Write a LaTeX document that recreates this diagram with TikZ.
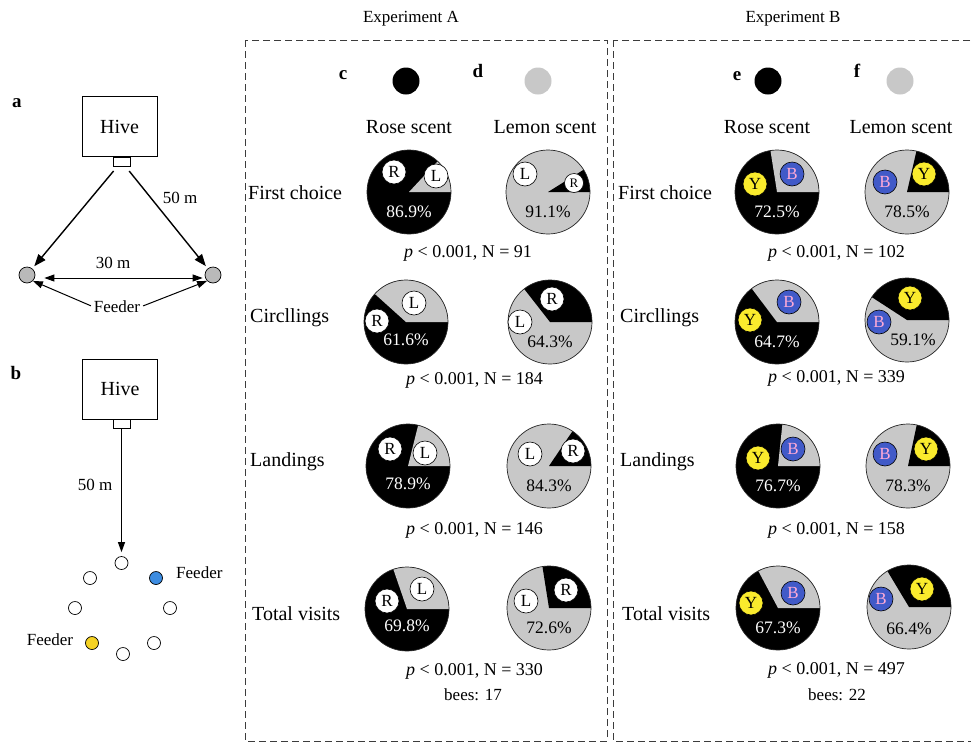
\documentclass[tikz,border=0pt]{standalone}
\usepackage{fontspec}
\setmainfont{Liberation Serif}
\usetikzlibrary{arrows.meta,calc}
\definecolor{pieGray}{RGB}{200,200,200}
\definecolor{feedGray}{RGB}{185,185,185}
\definecolor{lblBlue}{RGB}{65,90,200}
\definecolor{lblPink}{RGB}{255,170,215}
\definecolor{lblYellow}{RGB}{250,235,45}
\definecolor{fdBlue}{RGB}{60,140,225}
\definecolor{fdYellow}{RGB}{245,210,35}
\definecolor{boxLine}{RGB}{60,60,60}

\newcommand\mypie[6]{%
 \coordinate (#1) at (#2,#3);
 \begin{scope}[shift={(#1)},yscale=-1]
  \fill[#4] (0,0) circle[radius=42];
  \fill[#5] (0,0) -- (0:42) arc[start angle=0,end angle=#6,radius=42] -- cycle;
  \draw[pieedge] (0,0) circle[radius=42];
 \end{scope}}

\begin{document}
\begin{tikzpicture}[x=1pt,y=-1pt,
  txt/.style={inner sep=0pt, font=\fontsize{20}{24}\selectfont},
  small/.style={inner sep=0pt, font=\fontsize{17}{20}\selectfont},
  head/.style={inner sep=0pt, font=\fontsize{17}{20}\selectfont},
  ptxt/.style={inner sep=0pt, font=\fontsize{18}{21}\selectfont},
  letter/.style={inner sep=0pt, font=\fontsize{19}{22}\selectfont\bfseries},
  pieedge/.style={draw=black!85, line width=0.7pt},
  pctw/.style={inner sep=0pt, text=white, font=\fontsize{17.5}{20}\selectfont},
  pctk/.style={inner sep=0pt, text=black, font=\fontsize{17.5}{20}\selectfont},
  wl/.style={circle, draw=black, line width=0.6pt, fill=white, minimum size=24pt, inner sep=0pt, font=\fontsize{17}{19}\selectfont},
  wls/.style={wl, minimum size=19pt, font=\fontsize{13}{15}\selectfont},
  bl/.style={wl, fill=lblBlue, text=lblPink},
  yl/.style={wl, fill=lblYellow},
  dot/.style={circle, minimum size=27pt, inner sep=0pt},
  framebox/.style={draw=boxLine, line width=1pt, dash pattern=on 7pt off 4pt},
  hive/.style={draw, line width=0.8pt, minimum width=75pt, minimum height=60pt, inner sep=0pt, font=\fontsize{20}{24}\selectfont},
  entr/.style={draw, line width=0.8pt, minimum width=17pt, minimum height=9pt, inner sep=0pt, fill=white},
  feed/.style={circle, draw, line width=0.7pt, fill=feedGray, minimum size=16pt, inner sep=0pt},
  spot/.style={circle, draw, line width=0.7pt, fill=white, minimum size=13pt, inner sep=0pt},
  arr/.style={line width=1.4pt, -{Triangle[length=12pt,width=9pt]}},
  arrs/.style={line width=1pt, -{Triangle[length=10pt,width=7pt]}},
  dbl/.style={line width=1pt, {Triangle[length=10pt,width=7pt]}-{Triangle[length=10pt,width=7pt]}},
]
\useasboundingbox (0,0) rectangle (971,742);
\fill[white] (0,0) rectangle (971,742);

% ---------- panel a ----------
\node[letter] (la) at (17,103) {a};
\node[hive] (hiveA) at (119.5,126.5) {Hive};
\node[entr] (entA) at (121.5,161.5) {};
\node[feed] (fl) at (27,275) {};
\node[feed] (fr) at (213,275) {};
\draw[arr, shorten <=6pt, shorten >=3pt] (entA) -- (fl);
\draw[arr, shorten <=6pt, shorten >=3pt] (entA) -- (fr);
\node[small] (d50a) at (180,198) {50 m};
\node[small] (d30a) at (113,263) {30 m};
\draw[dbl, shorten <=9pt, shorten >=2pt] ([yshift=-3pt]fl.east) -- ([yshift=-3pt]fr.west);
\node[small] (feedA) at (117,307) {Feeder};
\draw[arrs, shorten <=3pt] (feedA.west) -- (fl.south east);
\draw[arrs, shorten <=3pt] (feedA.east) -- (fr.south west);

% ---------- panel b ----------
\node[letter] (lb) at (16,373) {b};
\node[hive] (hiveB) at (120,389) {Hive};
\node[entr] (entB) at (121.5,424) {};
\node[spot] (s1) at (121.5,563) {};
\node[spot] (s2) at (90,578) {};
\node[spot, fill=fdBlue] (s3) at (156,578) {};
\node[spot] (s4) at (75,608) {};
\node[spot] (s5) at (170,608) {};
\node[spot, fill=fdYellow] (s6) at (92,643) {};
\node[spot] (s7) at (154,643) {};
\node[spot] (s8) at (123,654) {};
\draw[arrs, shorten >=4pt] (entB.south) -- (entB.south |- s1.north);
\node[small] (d50b) at (95,485) {50 m};
\node[small, anchor=west] (feedB1) at (176,573) {Feeder};
\node[small] (feedB2) at (50,640) {Feeder};

% ---------- frames and headers ----------
\node[head] (expA) at (411,19) {Experiment A};
\node[head] (expB) at (793,19) {Experiment B};
\draw[framebox] (245,40) rectangle (607,741);
\draw[framebox] (613,40) rectangle (976,741);

\node[letter] (lc) at (343,75) {c};
\node[dot, fill=black] (dc) at (406,81) {};
\node[letter] (ld) at (478,71) {d};
\node[dot, fill=pieGray] (dd) at (538,81) {};
\node[letter] (le) at (737,76) {e};
\node[dot, fill=black] (de) at (768,81) {};
\node[letter] (lf) at (857,71) {f};
\node[dot, fill=pieGray] (df) at (900,81) {};

\node[txt] (rsA) at (409,127) {Rose scent};
\node[txt] (lsA) at (545,127) {Lemon scent};
\node[txt] (rsB) at (767,127) {Rose scent};
\node[txt] (lsB) at (901,127) {Lemon scent};

% row labels
\node[txt, anchor=west] (A-r1) at (248,193) {First choice};
\node[txt, anchor=west] (A-r2) at (250,318) {Circllings};
\node[txt, anchor=west] (A-r3) at (250,462) {Landings};
\node[txt, anchor=west] (A-r4) at (252,614) {Total visits};
\node[txt, anchor=west] (B-r1) at (618,193) {First choice};
\node[txt, anchor=west] (B-r2) at (620,318) {Circllings};
\node[txt, anchor=west] (B-r3) at (620,462) {Landings};
\node[txt, anchor=west] (B-r4) at (622,614) {Total visits};

% ---------- Experiment A pies ----------
\mypie{A1c}{409}{192}{black}{pieGray}{47}
\node[wl] (A1c-r) at ($(A1c)+(-15,-20)$) {R};
\node[wl] (A1c-l) at ($(A1c)+(27,-16)$) {L};
\node[pctw] (A1c-t) at ($(A1c)+(0,20)$) {86.9\%};
\mypie{A1d}{548}{192}{pieGray}{black}{32}
\node[wl] (A1d-l) at ($(A1d)+(-23,-18)$) {L};
\node[wls] (A1d-r) at ($(A1d)+(26,-9)$) {R};
\node[pctk] (A1d-t) at ($(A1d)+(0,20)$) {91.1\%};

\mypie{A2c}{406}{322}{black}{pieGray}{138}
\node[wl] (A2c-l) at ($(A2c)+(8,-19)$) {L};
\node[wl] (A2c-r) at ($(A2c)+(-29,-1)$) {R};
\node[pctw] (A2c-t) at ($(A2c)+(0,18)$) {61.6\%};
\mypie{A2d}{550}{322}{pieGray}{black}{128}
\node[wl] (A2d-r) at ($(A2d)+(2,-23)$) {R};
\node[wl] (A2d-l) at ($(A2d)+(-30,0)$) {L};
\node[pctk] (A2d-t) at ($(A2d)+(0,20)$) {64.3\%};
\node[ptxt, anchor=west] (A-p1) at (404,253) {\textit{p} < 0.001, N = 91};
\node[ptxt, anchor=west] (A-p2) at (406,380) {\textit{p} < 0.001, N = 184};

\mypie{A3c}{408}{466}{black}{pieGray}{76}
\node[wl] (A3c-r) at ($(A3c)+(-18,-17)$) {R};
\node[wl] (A3c-l) at ($(A3c)+(17,-13)$) {L};
\node[pctw] (A3c-t) at ($(A3c)+(0,18)$) {78.9\%};
\mypie{A3d}{549}{466}{pieGray}{black}{56}
\node[wl] (A3d-r) at ($(A3d)+(24,-15)$) {R};
\node[wl] (A3d-l) at ($(A3d)+(-19,-12)$) {L};
\node[pctk] (A3d-t) at ($(A3d)+(0,20)$) {84.3\%};
\node[ptxt, anchor=west] (A-p3) at (406,530) {\textit{p} < 0.001, N = 146};

\mypie{A4c}{407}{609}{black}{pieGray}{109}
\node[wl] (A4c-l) at ($(A4c)+(15,-20)$) {L};
\node[wl] (A4c-r) at ($(A4c)+(-20,-8)$) {R};
\node[pctw] (A4c-t) at ($(A4c)+(0,17)$) {69.8\%};
\mypie{A4d}{549}{608}{pieGray}{black}{99}
\node[wl] (A4d-r) at ($(A4d)+(17,-18)$) {R};
\node[wl] (A4d-l) at ($(A4d)+(-23,-7)$) {L};
\node[pctk] (A4d-t) at ($(A4d)+(0,20)$) {72.6\%};
\node[ptxt, anchor=west] (A-p4) at (406,671) {\textit{p} < 0.001, N = 330};
\node[small] (A-bees) at (473,695) {bees: 17};

% ---------- Experiment B pies ----------
\mypie{B1e}{777}{192}{black}{pieGray}{99}
\node[bl] (B1e-b) at ($(B1e)+(15,-18)$) {B};
\node[yl] (B1e-y) at ($(B1e)+(-22,-8)$) {Y};
\node[pctw] (B1e-t) at ($(B1e)+(0,20)$) {72.5\%};
\mypie{B1f}{907}{192}{pieGray}{black}{77}
\node[yl] (B1f-y) at ($(B1f)+(17,-18)$) {Y};
\node[bl] (B1f-b) at ($(B1f)+(-22,-10)$) {B};
\node[pctk] (B1f-t) at ($(B1f)+(0,20)$) {78.5\%};
\node[ptxt, anchor=west] (B-p1) at (768,253) {\textit{p} < 0.001, N = 102};

\mypie{B2e}{777}{322}{black}{pieGray}{127}
\node[bl] (B2e-b) at ($(B2e)+(12,-20)$) {B};
\node[yl] (B2e-y) at ($(B2e)+(-27,-2)$) {Y};
\node[pctw] (B2e-t) at ($(B2e)+(0,20)$) {64.7\%};
\mypie{B2f}{907}{320}{pieGray}{black}{147}
\node[yl] (B2f-y) at ($(B2f)+(3,-22)$) {Y};
\node[bl] (B2f-b) at ($(B2f)+(-28,2)$) {B};
\node[pctk] (B2f-t) at ($(B2f)+(6,20)$) {59.1\%};
\node[ptxt, anchor=west] (B-p2) at (768,378) {\textit{p} < 0.001, N = 339};

\mypie{B3e}{778}{466}{black}{pieGray}{84}
\node[bl] (B3e-b) at ($(B3e)+(15,-17)$) {B};
\node[yl] (B3e-y) at ($(B3e)+(-20,-8)$) {Y};
\node[pctw] (B3e-t) at ($(B3e)+(0,20)$) {76.7\%};
\mypie{B3f}{908}{466}{pieGray}{black}{78}
\node[yl] (B3f-y) at ($(B3f)+(18,-17)$) {Y};
\node[bl] (B3f-b) at ($(B3f)+(-23,-12)$) {B};
\node[pctk] (B3f-t) at ($(B3f)+(0,20)$) {78.3\%};
\node[ptxt, anchor=west] (B-p3) at (768,530) {\textit{p} < 0.001, N = 158};

\mypie{B4e}{778}{608}{black}{pieGray}{118}
\node[bl] (B4e-b) at ($(B4e)+(15,-15)$) {B};
\node[yl] (B4e-y) at ($(B4e)+(-27,-5)$) {Y};
\node[pctw] (B4e-t) at ($(B4e)+(0,20)$) {67.3\%};
\mypie{B4f}{909}{607}{pieGray}{black}{121}
\node[yl] (B4f-y) at ($(B4f)+(13,-18)$) {Y};
\node[bl] (B4f-b) at ($(B4f)+(-28,-8)$) {B};
\node[pctk] (B4f-t) at ($(B4f)+(0,22)$) {66.4\%};
\node[ptxt, anchor=west] (B-p4) at (768,670) {\textit{p} < 0.001, N = 497};
\node[small] (B-bees) at (837,695) {bees: 22};
\end{tikzpicture}
\end{document}
